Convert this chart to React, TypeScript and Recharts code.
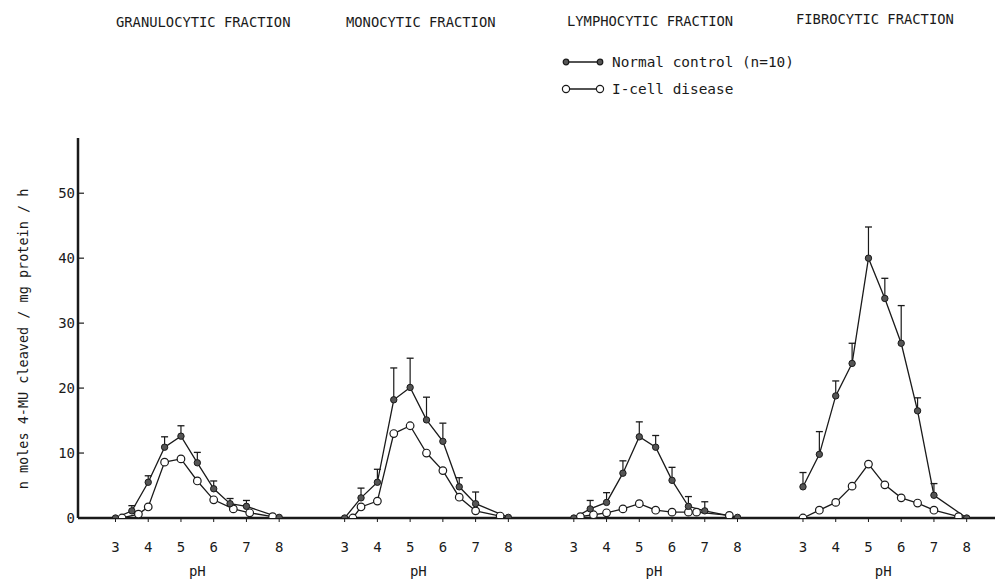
import React from "react";
import {
  ComposedChart,
  Line,
  ErrorBar,
  XAxis,
  YAxis,
  ReferenceDot,
  Label,
} from "recharts";

// pH steps used for the normal-control curve in every fraction
const normalPh = [3, 3.5, 4, 4.5, 5, 5.5, 6, 6.5, 7, 8];

// granulocytic
const granNormal = [0, 1.1, 5.5, 10.9, 12.6, 8.5, 4.5, 2.2, 1.8, 0.1];
const granNormalSe = [0, 0.8, 1.0, 1.6, 1.6, 1.6, 1.2, 0.8, 0.9, 0];
const granIcellPh = [3.2, 3.7, 4, 4.5, 5, 5.5, 6, 6.6, 7.1, 7.8];
const granIcell = [0, 0.6, 1.7, 8.6, 9.1, 5.7, 2.8, 1.4, 0.8, 0.2];

// monocytic
const monoNormal = [0, 3.1, 5.5, 18.2, 20.1, 15.1, 11.8, 4.8, 2.2, 0.1];
const monoNormalSe = [0, 1.5, 2.0, 4.9, 4.5, 3.5, 2.8, 1.4, 1.8, 0];
const monoIcellPh = [3.25, 3.5, 4, 4.5, 5, 5.5, 6, 6.5, 7, 7.75];
const monoIcell = [0, 1.7, 2.6, 13.0, 14.2, 10.0, 7.3, 3.2, 1.1, 0.3];

// lymphocytic
const lymphNormal = [0, 1.4, 2.4, 6.9, 12.5, 10.9, 5.8, 1.8, 1.1, 0.1];
const lymphNormalSe = [0, 1.3, 1.5, 1.9, 2.3, 1.8, 2.0, 1.5, 1.4, 0];
const lymphIcellPh = [3.2, 3.6, 4, 4.5, 5, 5.5, 6, 6.5, 6.75, 7.75];
const lymphIcell = [0.2, 0.5, 0.8, 1.4, 2.2, 1.2, 0.9, 0.9, 0.9, 0.4];

// fibrocytic
const fibroNormal = [4.8, 9.8, 18.8, 23.8, 40.0, 33.8, 26.9, 16.5, 3.5, 0];
const fibroNormalSe = [2.2, 3.5, 2.3, 3.1, 4.8, 3.1, 5.8, 2.0, 1.8, 0];
const fibroIcellPh = [3, 3.5, 4, 4.5, 5, 5.5, 6, 6.5, 7, 7.75];
const fibroIcell = [0, 1.2, 2.4, 4.9, 8.3, 5.1, 3.1, 2.3, 1.2, 0.2];

const fractions = [
  "GRANULOCYTIC FRACTION",
  "MONOCYTIC FRACTION",
  "LYMPHOCYTIC FRACTION",
  "FIBROCYTIC FRACTION",
];
const phTicks = [3, 4, 5, 6, 7, 8];
const yTicks = [0, 10, 20, 30, 40, 50];

const SHIFT = 7; // x units between the panels
const MONO = "'DejaVu Sans Mono', 'Liberation Mono', monospace";
const INK = "#1a1a1a";

const normalSets = [
  { val: granNormal, se: granNormalSe },
  { val: monoNormal, se: monoNormalSe },
  { val: lymphNormal, se: lymphNormalSe },
  { val: fibroNormal, se: fibroNormalSe },
];
const icellSets = [
  { ph: granIcellPh, val: granIcell },
  { ph: monoIcellPh, val: monoIcell },
  { ph: lymphIcellPh, val: lymphIcell },
  { ph: fibroIcellPh, val: fibroIcell },
];

const normalRows = normalSets.map((s, k) =>
  normalPh.map((p, i) => ({ x: p + k * SHIFT, y: s.val[i], err: [0, s.se[i]] }))
);
// top of each error bar, used for the little cap
const capRows = normalSets.map((s, k) =>
  normalPh.map((p, i) => ({ x: p + k * SHIFT, y: s.val[i] + s.se[i], se: s.se[i] }))
);
const icellRows = icellSets.map((s, k) =>
  s.ph.map((p, i) => ({ x: p + k * SHIFT, y: s.val[i] }))
);
const xTicks = normalSets.flatMap((_, k) => phTicks.map((t) => t + k * SHIFT));

const titleLeft = [116, 346, 567, 796];
const titleTop = [14, 14, 13, 11];
const phLabelAt = [5.5, 5.25, 5.45, 5.45];

const YTick = (props: any) => {
  const { x, y, payload } = props;
  return (
    <g>
      <line x1={x + 3} x2={x + 9} y1={y} y2={y} stroke={INK} strokeWidth={1.2} />
      <text x={x} y={y} dy="0.35em" textAnchor="end" fill={INK} fontSize={14} fontFamily={MONO}>
        {payload.value}
      </text>
    </g>
  );
};

const CapDot = (props: any) => {
  const { cx, cy, payload } = props;
  if (!payload || !payload.se || cx == null || cy == null) return <g />;
  return <line x1={cx - 3.5} x2={cx + 3.5} y1={cy} y2={cy} stroke={INK} strokeWidth={1.3} />;
};

const YTitle = (props: any) => {
  const vb = props.viewBox || { y: 138, height: 380 };
  const cx = 23;
  const cy = vb.y + vb.height / 2 + 11;
  return (
    <text
      x={cx}
      y={cy}
      transform={`rotate(-90 ${cx} ${cy})`}
      textAnchor="middle"
      dominantBaseline="central"
      fill={INK}
      fontSize={13.5}
      fontFamily={MONO}
    >
      n moles 4-MU cleaved / mg protein / h
    </text>
  );
};

const LegendRow = ({ top, filled, text }: { top: number; filled: boolean; text: string }) => (
  <div style={{ position: "absolute", left: 560, top, height: 16, display: "flex", alignItems: "center" }}>
    <svg width={46} height={12}>
      <line x1={6} x2={40} y1={6} y2={6} stroke={INK} strokeWidth={1.3} />
      {[6, 40].map((cx) => (
        <circle
          key={cx}
          cx={cx}
          cy={6}
          r={filled ? 2.8 : 3.6}
          fill={filled ? "#555" : "#fff"}
          stroke={INK}
          strokeWidth={1.2}
        />
      ))}
    </svg>
    <span style={{ marginLeft: 6, fontSize: 14.4, fontFamily: MONO, color: INK, whiteSpace: "nowrap" }}>
      {text}
    </span>
  </div>
);

const App: React.FC = () => {
  return (
    <div style={{ position: "absolute", left: 0, top: 0, width: 995, height: 580, background: "#fff" }}>
      <div style={{ position: "absolute", left: 0, top: 0 }}>
        <ComposedChart width={995} height={580} margin={{ top: 138, right: 0, bottom: 32, left: 38 }}>
          <XAxis
            type="number"
            dataKey="x"
            domain={[1.855, 29.865]}
            allowDataOverflow
            ticks={xTicks}
            interval={0}
            tickFormatter={(v: number) => String(((Math.round(v) - 3) % SHIFT) + 3)}
            axisLine={{ stroke: INK, strokeWidth: 2.5 }}
            tickLine={{ stroke: INK, strokeWidth: 1 }}
            tickSize={4}
            tickMargin={20}
            tick={{ fill: INK, fontSize: 14, fontFamily: MONO }}
            height={30}
          />
          <YAxis
            type="number"
            domain={[0, 58.5]}
            allowDataOverflow
            ticks={yTicks}
            interval={0}
            width={40}
            axisLine={{ stroke: INK, strokeWidth: 2.5 }}
            tickLine={false}
            tickSize={0}
            tickMargin={3}
            tick={<YTick />}
            label={<Label content={<YTitle />} />}
          />
          {/* error bar stems (upward only), no caps */}
          {normalRows.map((rows, k) => (
            <Line
              key={`se-${k}`}
              data={rows}
              dataKey="y"
              stroke="none"
              dot={false}
              activeDot={false}
              isAnimationActive={false}
              legendType="none"
            >
              <ErrorBar dataKey="err" direction="y" width={0} stroke={INK} strokeWidth={1.2} />
            </Line>
          ))}
          {/* caps at the top of each bar */}
          {capRows.map((rows, k) => (
            <Line
              key={`cap-${k}`}
              data={rows}
              dataKey="y"
              stroke="none"
              dot={<CapDot />}
              activeDot={false}
              isAnimationActive={false}
              legendType="none"
            />
          ))}
          {icellRows.map((rows, k) => (
            <Line
              key={`icell-${k}`}
              data={rows}
              dataKey="y"
              type="linear"
              stroke={INK}
              strokeWidth={1.3}
              dot={{ r: 3.8, fill: "#fff", stroke: INK, strokeWidth: 1.2 }}
              activeDot={false}
              isAnimationActive={false}
              legendType="none"
            />
          ))}
          {normalRows.map((rows, k) => (
            <Line
              key={`normal-${k}`}
              data={rows}
              dataKey="y"
              type="linear"
              stroke={INK}
              strokeWidth={1.3}
              dot={{ r: 3.2, fill: "#555", stroke: INK, strokeWidth: 1 }}
              activeDot={false}
              isAnimationActive={false}
              legendType="none"
            />
          ))}
          {phLabelAt.map((p, k) => (
            <ReferenceDot
              key={`ph-${k}`}
              x={p + k * SHIFT}
              y={0}
              r={0}
              stroke="none"
              fill="none"
              label={{ value: "pH", position: "bottom", offset: 48, fill: INK, fontSize: 14, fontFamily: MONO }}
            />
          ))}
        </ComposedChart>
      </div>

      {fractions.map((t, i) => (
        <div
          key={t}
          style={{
            position: "absolute",
            left: titleLeft[i],
            top: titleTop[i],
            fontSize: 13.8,
            lineHeight: "16px",
            fontFamily: MONO,
            color: INK,
            whiteSpace: "nowrap",
          }}
        >
          {t}
        </div>
      ))}

      <LegendRow top={54} filled text="Normal control (n=10)" />
      <LegendRow top={81} filled={false} text="I-cell disease" />
    </div>
  );
};

export default App;
